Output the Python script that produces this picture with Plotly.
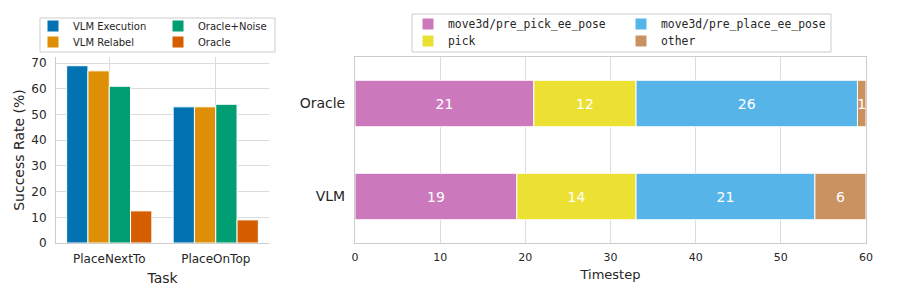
import plotly.graph_objects as go
import numpy as np

# ---- left chart data ----
tasks = ["PlaceNextTo", "PlaceOnTop"]
methods = ["VLM Execution", "VLM Relabel", "Oracle+Noise", "Oracle"]
success = {
    "VLM Execution": [69, 53],
    "VLM Relabel": [67, 53],
    "Oracle+Noise": [61, 54],
    "Oracle": [12.5, 9],
}
method_colors = ["#0173B2", "#DE8F05", "#029E73", "#D55E00"]
method_legend = ["legend", "legend2", "legend", "legend2"]
y_ticks_left = [0, 10, 20, 30, 40, 50, 60, 70]

# ---- right chart data ----
agents = ["Oracle", "VLM"]
phases = ["move3d/pre_pick_ee_pose", "pick", "move3d/pre_place_ee_pose", "other"]
durations = {
    "move3d/pre_pick_ee_pose": [21, 19],
    "pick": [12, 14],
    "move3d/pre_place_ee_pose": [26, 21],
    "other": [1, 6],
}
phase_colors = ["#CC78BC", "#ECE133", "#56B4E9", "#CA9161"]
phase_legend = ["legend3", "legend4", "legend3", "legend4"]
x_ticks_right = [0, 10, 20, 30, 40, 50, 60]

FONT = "DejaVu Sans"
TXT = "#262626"
GRID = "#dcdcdc"
LINE = "#cccccc"
W, H = 897, 299

fig = go.Figure()

for m, c, lg in zip(methods, method_colors, method_legend):
    fig.add_trace(go.Bar(
        x=tasks, y=success[m], name=m, marker_color=c,
        marker_line=dict(color="white", width=1),
        xaxis="x", yaxis="y", legend=lg,
    ))

base = np.zeros(len(agents))
for p, c, lg in zip(phases, phase_colors, phase_legend):
    vals = np.array(durations[p], dtype=float)
    fig.add_trace(go.Bar(
        y=agents, x=vals, base=base.copy(), orientation="h", name=p,
        marker_color=c, marker_line=dict(color="white", width=1),
        width=0.5, offset=-0.25,
        text=[str(int(v)) for v in vals], textposition="inside",
        insidetextanchor="middle", constraintext="none",
        textfont=dict(color="white", size=14, family=FONT),
        xaxis="x2", yaxis="y2", legend=lg,
    ))
    base += vals


def px_x(v):
    return v / W


def px_y(v):
    return 1 - v / H


leg_common = dict(orientation="h", xanchor="left", yanchor="middle",
                  borderwidth=0, bgcolor="rgba(0,0,0,0)", tracegroupgap=0)
left_font = dict(size=10, family=FONT)
right_font = dict(size=11.4, family="DejaVu Sans Mono")

fig.update_layout(
    width=W, height=H,
    margin=dict(l=0, r=0, t=0, b=0, autoexpand=False),
    paper_bgcolor="white", plot_bgcolor="white",
    font=dict(family=FONT, color=TXT),
    barmode="group", bargap=0.2, bargroupgap=0,
    showlegend=True,
    xaxis=dict(
        domain=[px_x(56), px_x(269)], anchor="y", automargin=False,
        range=[-0.5, 1.5], type="category",
        showgrid=True, gridcolor=GRID, showline=True, linecolor=LINE,
        tickfont=dict(size=12), ticks="", ticklabelstandoff=5,
        title=dict(text="Task", font=dict(size=14), standoff=7),
    ),
    yaxis=dict(
        domain=[px_y(243), px_y(57)], anchor="x", automargin=False,
        range=[0, 72.4], tickvals=y_ticks_left,
        showgrid=True, gridcolor=GRID, showline=True, linecolor=LINE,
        zeroline=False, tickfont=dict(size=12), ticks="", ticklabelstandoff=6,
        title=dict(text="Success Rate (%)", font=dict(size=14), standoff=3),
    ),
    xaxis2=dict(
        domain=[px_x(355), px_x(866)], anchor="y2", automargin=False,
        range=[0, 60], tickvals=x_ticks_right,
        showgrid=True, gridcolor=GRID, showline=True, linecolor=LINE,
        mirror=True, zeroline=False, tickfont=dict(size=11), ticks="",
        ticklabelstandoff=4,
        title=dict(text="Timestep", font=dict(size=13), standoff=6),
    ),
    yaxis2=dict(
        domain=[px_y(243), px_y(57)], anchor="x2", automargin=False,
        type="category", range=[1.5, -0.5],
        showgrid=True, gridcolor=GRID, showline=True, linecolor=LINE,
        mirror=True, tickfont=dict(size=14), ticks="", ticklabelstandoff=6,
    ),
    legend=dict(x=px_x(33), y=px_y(26), font=left_font, entrywidth=80, **leg_common),
    legend2=dict(x=px_x(33), y=px_y(42), font=left_font, entrywidth=80, **leg_common),
    legend3=dict(x=px_x(408), y=px_y(24), font=right_font, entrywidth=168, **leg_common),
    legend4=dict(x=px_x(408), y=px_y(41), font=right_font, entrywidth=168, **leg_common),
    shapes=[
        dict(type="rect", xref="paper", yref="paper",
             x0=px_x(40), x1=px_x(275), y0=px_y(52), y1=px_y(18),
             line=dict(color=LINE, width=1), layer="below"),
        dict(type="rect", xref="paper", yref="paper",
             x0=px_x(412), x1=px_x(831), y0=px_y(52), y1=px_y(14),
             line=dict(color=LINE, width=1), layer="below"),
    ],
)

fig.write_html("out.html", config={"displayModeBar": False},
               post_script="document.body.style.margin='0';document.body.style.padding='0';")
